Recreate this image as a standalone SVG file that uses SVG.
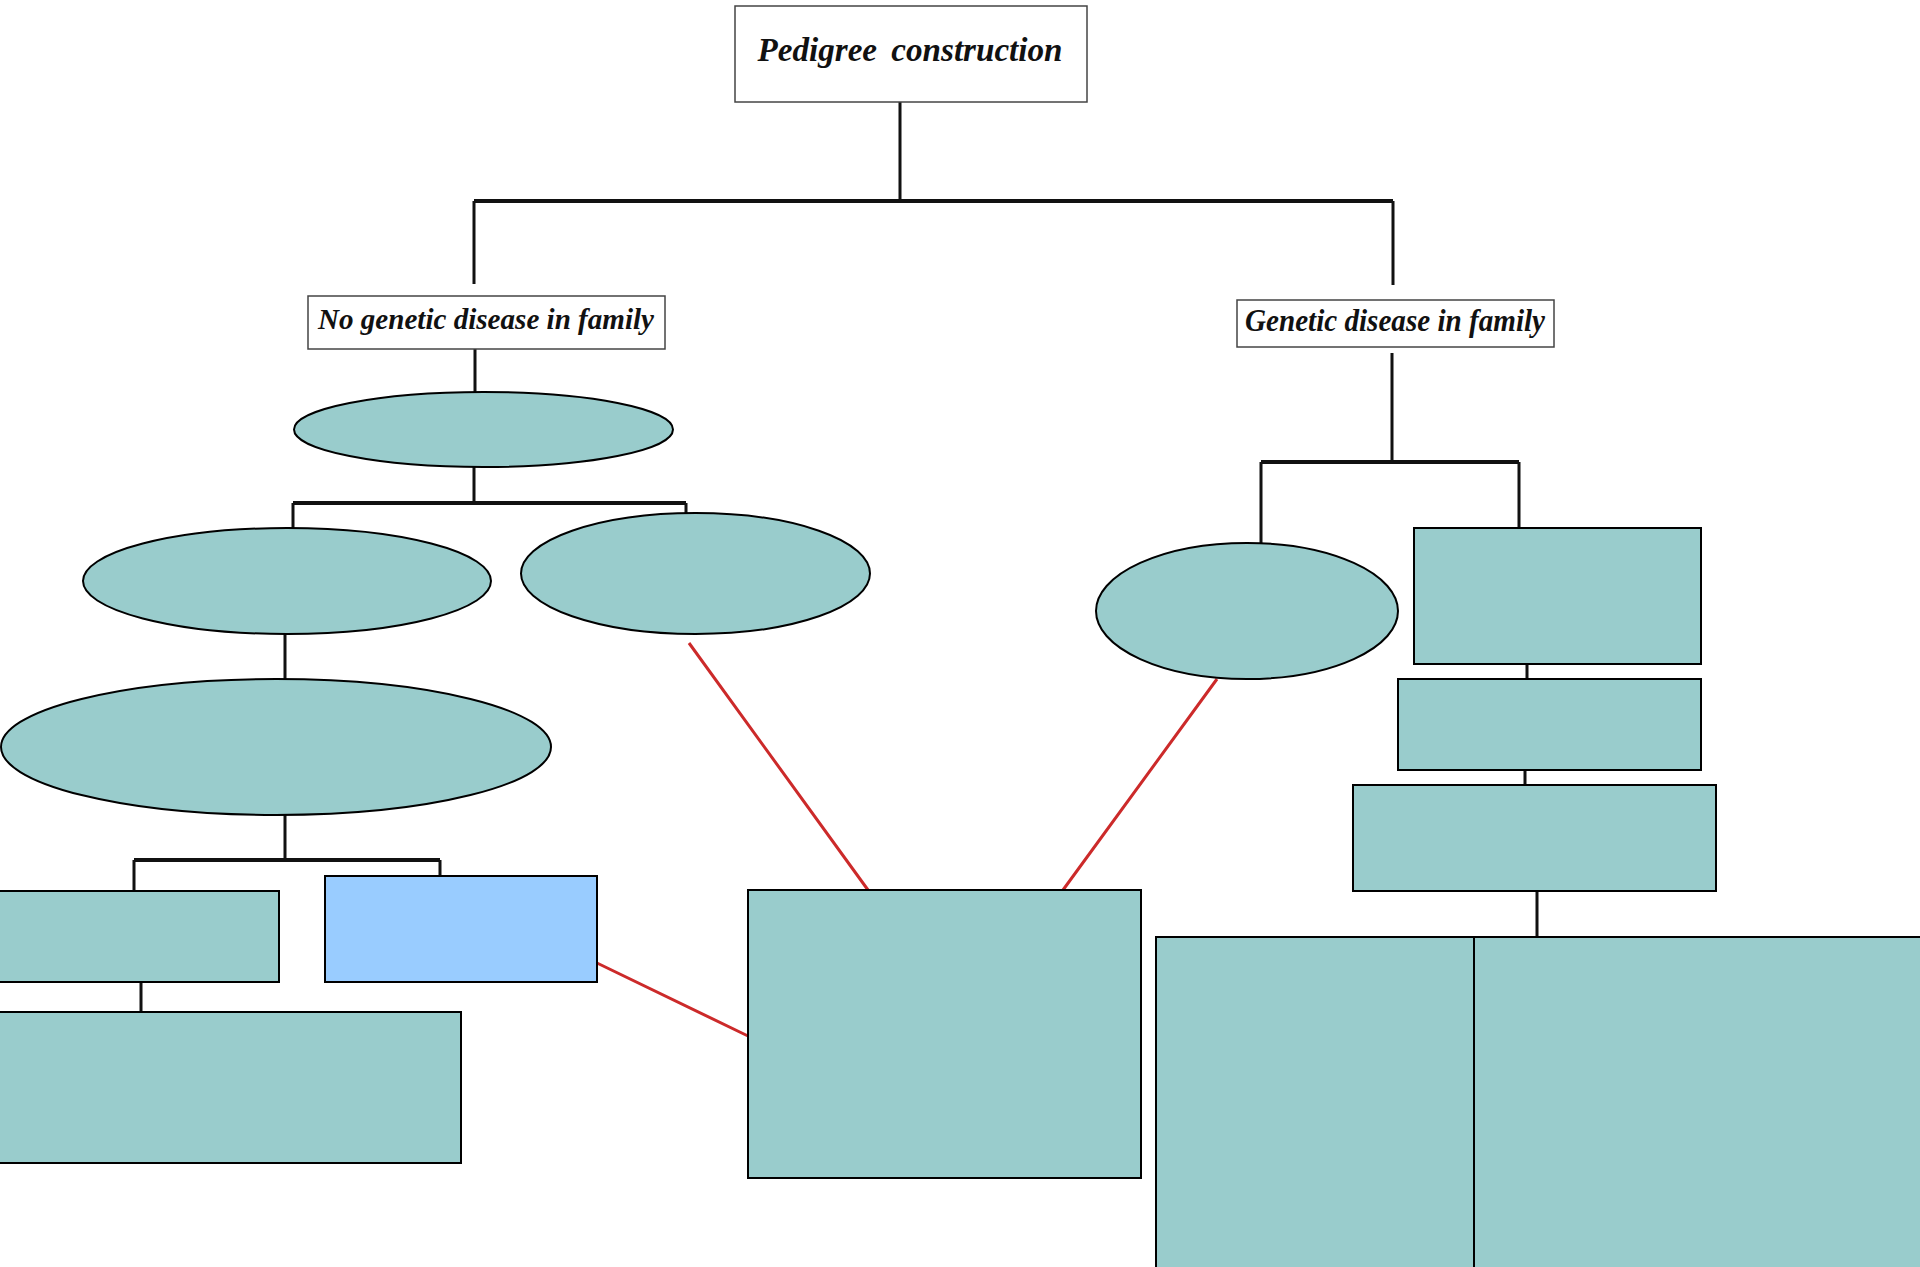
<svg xmlns="http://www.w3.org/2000/svg" width="1920" height="1267" viewBox="0 0 1920 1267">
<style>
.t{fill:#99cccc;stroke:#000;stroke-width:2}
.b{fill:#99ccff;stroke:#000;stroke-width:2}
.lbl{fill:#fff;stroke:#444;stroke-width:1.5}
.txt{font-family:"Liberation Serif","Times New Roman",serif;font-style:italic;font-weight:bold;fill:#111}
.c{fill:none;stroke:#111;stroke-width:3}
.bar{fill:none;stroke:#111;stroke-width:4}
.r{fill:none;stroke:#cc2a2a;stroke-width:3}
</style>
<rect width="1920" height="1267" fill="#fff"/>
<g id="connectors">
<path class="c" d="M900 102V201M474 201V284M1393 201V285"/>
<path class="bar" d="M474 201H1393M293 503H686M134 860H440M1261 462H1519"/>
<path class="c" d="M475 349V392M474 467V503M293 503V528M686 503V513"/>
<path class="c" d="M285 634V679M285 815V860M134 860V891M440 860V876M141 982V1012"/>
<path class="c" d="M1392 353V462M1261 462V543M1519 462V528"/>
<path class="c" d="M1527 664V679M1525 770V785M1537 891V937"/>
<path class="r" d="M689 643L868 890M1217 679L1063 890M597 963L748 1036"/>
</g>
<g id="n-pedigree"><rect class="lbl" x="735" y="6" width="352" height="96"/><text class="txt" x="910" y="61" font-size="33" text-anchor="middle" word-spacing="6" textLength="305" lengthAdjust="spacingAndGlyphs">Pedigree construction</text></g>
<g id="n-nodisease"><rect class="lbl" x="308" y="296" width="357" height="53"/><text class="txt" x="486" y="329" font-size="30" text-anchor="middle" textLength="336" lengthAdjust="spacingAndGlyphs">No genetic disease in family</text></g>
<g id="n-disease"><rect class="lbl" x="1237" y="300" width="317" height="47"/><text class="txt" x="1395" y="331" font-size="31" text-anchor="middle" textLength="300" lengthAdjust="spacingAndGlyphs">Genetic disease in family</text></g>
<g id="e1"><ellipse class="t" cx="483.5" cy="429.5" rx="189.5" ry="37.5"/></g>
<g id="e2"><ellipse class="t" cx="287" cy="581" rx="204" ry="53"/></g>
<g id="e3"><ellipse class="t" cx="695.5" cy="573.5" rx="174.5" ry="60.5"/></g>
<g id="e4"><ellipse class="t" cx="276" cy="747" rx="275" ry="68"/></g>
<g id="e5"><ellipse class="t" cx="1247" cy="611" rx="151" ry="68"/></g>
<g id="r1"><rect class="t" x="-2" y="891" width="281" height="91"/></g>
<g id="r2"><rect class="b" x="325" y="876" width="272" height="106"/></g>
<g id="r3"><rect class="t" x="-2" y="1012" width="463" height="151"/></g>
<g id="r4"><rect class="t" x="748" y="890" width="393" height="288"/></g>
<g id="r5"><rect class="t" x="1414" y="528" width="287" height="136"/></g>
<g id="r6"><rect class="t" x="1398" y="679" width="303" height="91"/></g>
<g id="r7"><rect class="t" x="1353" y="785" width="363" height="106"/></g>
<g id="r8"><rect class="t" x="1156" y="937" width="318" height="340"/></g>
<g id="r9"><rect class="t" x="1474" y="937" width="450" height="340"/></g>
</svg>
